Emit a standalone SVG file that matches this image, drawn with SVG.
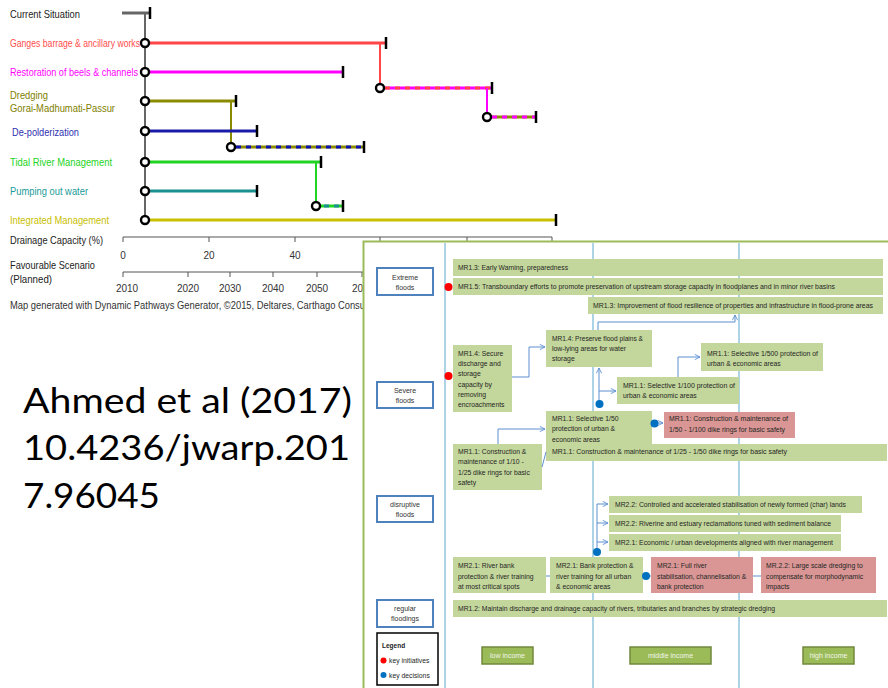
<svg xmlns="http://www.w3.org/2000/svg" width="888" height="688" viewBox="0 0 888 688">
<defs>
<style>
.lbl{font-family:"Liberation Sans",Arial,sans-serif;font-size:11px}
.ax{font-family:"Liberation Sans",Arial,sans-serif;font-size:10px;fill:#333}
.pw{stroke-width:3;fill:none}
.tk{stroke:#000;stroke-width:2.5}
.nd{fill:#fff;stroke:#000;stroke-width:2.4}
.t{font-family:"Liberation Sans",Arial,sans-serif;font-size:6.8px;fill:#262626}
.g{fill:#c3d69b}
.r{fill:#d99694}
.lv{fill:#fff;stroke:#4f81bd;stroke-width:2}
.lt{font-family:"Liberation Sans",Arial,sans-serif;font-size:7px;fill:#333;text-anchor:middle}
.inc{fill:#9bbb59;stroke:#71893f;stroke-width:1.5}
.it{font-family:"Liberation Sans",Arial,sans-serif;font-size:7px;fill:#f2f6ea;text-anchor:middle}
.cn{stroke:#5b8fd0;stroke-width:1;fill:none}
.vl{stroke:#92c5de;stroke-width:1.5}
.big{font-family:Lato,"Open Sans",sans-serif;font-size:34px;fill:#000}
</style>
<marker id="ar" viewBox="0 0 8 8" refX="7" refY="4" markerWidth="7" markerHeight="7" markerUnits="userSpaceOnUse" orient="auto">
<path d="M1,1 L7,4 L1,7" fill="none" stroke="#5b8fd0" stroke-width="1"/>
</marker>
</defs>
<rect width="888" height="688" fill="#fff"/>

<!-- Pathways chart -->
<g id="pathway-lines">
<line x1="122" y1="13" x2="150" y2="13" stroke="#666" class="pw"/>
<line x1="145" y1="13" x2="145" y2="220" stroke="#666" stroke-width="2"/>
<line x1="145" y1="43" x2="386" y2="43" stroke="#ff4545" class="pw"/>
<line x1="380" y1="43" x2="380" y2="88" stroke="#ff4545" stroke-width="2"/>
<line x1="380" y1="88" x2="492" y2="88" stroke="#ff00ff" class="pw"/>
<line x1="385" y1="88" x2="492" y2="88" stroke="#ff4545" class="pw" stroke-dasharray="5 5"/>
<line x1="487" y1="88" x2="487" y2="117" stroke="#ff00ff" stroke-width="2"/>
<line x1="487" y1="117" x2="536" y2="117" stroke="#8b8b00" class="pw"/>
<line x1="492" y1="117" x2="536" y2="117" stroke="#ff00ff" class="pw" stroke-dasharray="5 5"/>
<line x1="145" y1="72" x2="343" y2="72" stroke="#ff00ff" class="pw"/>
<line x1="145" y1="101" x2="236" y2="101" stroke="#8b8b00" class="pw"/>
<line x1="231" y1="101" x2="231" y2="147" stroke="#8b8b00" stroke-width="2"/>
<line x1="231" y1="147" x2="364" y2="147" stroke="#8b8b00" class="pw"/>
<line x1="236" y1="147" x2="364" y2="147" stroke="#1010b0" class="pw" stroke-dasharray="5 5"/>
<line x1="145" y1="131" x2="257" y2="131" stroke="#1a1aa8" class="pw"/>
<line x1="145" y1="162" x2="321" y2="162" stroke="#22d422" class="pw"/>
<line x1="316" y1="162" x2="316" y2="206" stroke="#22d422" stroke-width="2"/>
<line x1="316" y1="206" x2="343" y2="206" stroke="#22d422" class="pw"/>
<line x1="324" y1="206" x2="343" y2="206" stroke="#1a9090" class="pw" stroke-dasharray="5 5"/>
<line x1="145" y1="191" x2="257" y2="191" stroke="#1a9090" class="pw"/>
<line x1="145" y1="220" x2="556" y2="220" stroke="#c8c000" class="pw"/>
</g>
<g id="pathway-ticks">
<line x1="150" y1="7" x2="150" y2="19" class="tk"/>
<line x1="386" y1="37" x2="386" y2="49" class="tk"/>
<line x1="343" y1="66" x2="343" y2="78" class="tk"/>
<line x1="492" y1="82" x2="492" y2="94" class="tk"/>
<line x1="536" y1="111" x2="536" y2="123" class="tk"/>
<line x1="236" y1="95" x2="236" y2="107" class="tk"/>
<line x1="257" y1="125" x2="257" y2="137" class="tk"/>
<line x1="364" y1="141" x2="364" y2="153" class="tk"/>
<line x1="321" y1="156" x2="321" y2="168" class="tk"/>
<line x1="257" y1="185" x2="257" y2="197" class="tk"/>
<line x1="343" y1="200" x2="343" y2="212" class="tk"/>
<line x1="556" y1="214" x2="556" y2="226" class="tk"/>
</g>
<g id="pathway-nodes">
<circle cx="145" cy="43" r="4" class="nd"/>
<circle cx="145" cy="72" r="4" class="nd"/>
<circle cx="145" cy="101" r="4" class="nd"/>
<circle cx="145" cy="131" r="4" class="nd"/>
<circle cx="145" cy="162" r="4" class="nd"/>
<circle cx="145" cy="191" r="4" class="nd"/>
<circle cx="145" cy="220" r="4" class="nd"/>
<circle cx="380" cy="88" r="4" class="nd"/>
<circle cx="487" cy="117" r="4" class="nd"/>
<circle cx="231" cy="147" r="4" class="nd"/>
<circle cx="316" cy="206" r="4" class="nd"/>
</g>
<g id="pathway-labels">
<text x="10" y="18" class="lbl" fill="#222" textLength="70" lengthAdjust="spacingAndGlyphs">Current Situation</text>
<text x="10" y="47" class="lbl" fill="#ff4d4d" textLength="130" lengthAdjust="spacingAndGlyphs">Ganges barrage &amp; ancillary works</text>
<text x="10" y="76" class="lbl" fill="#ff00ff" textLength="128" lengthAdjust="spacingAndGlyphs">Restoration of beels &amp; channels</text>
<text x="10" y="99" class="lbl" fill="#808000" textLength="38" lengthAdjust="spacingAndGlyphs">Dredging</text>
<text x="10" y="111.5" class="lbl" fill="#808000" textLength="105" lengthAdjust="spacingAndGlyphs">Gorai-Madhumati-Passur</text>
<text x="12" y="135.5" class="lbl" fill="#3030b0" textLength="67" lengthAdjust="spacingAndGlyphs">De-polderization</text>
<text x="10" y="166" class="lbl" fill="#22d422" textLength="102" lengthAdjust="spacingAndGlyphs">Tidal River Management</text>
<text x="10" y="194.5" class="lbl" fill="#1a9a9a" textLength="78" lengthAdjust="spacingAndGlyphs">Pumping out water</text>
<text x="10" y="224" class="lbl" fill="#c8c000" textLength="99" lengthAdjust="spacingAndGlyphs">Integrated Management</text>
</g>
<g id="axes">
<text x="10" y="244" class="lbl" fill="#222" textLength="93" lengthAdjust="spacingAndGlyphs">Drainage Capacity (%)</text>
<path d="M123,237 H552 M123,237 V242 M209,237 V242 M295,237 V242 M380,237 V242 M467,237 V242 M552,237 V242" stroke="#555" stroke-width="1" fill="none"/>
<text x="123" y="259" class="ax" text-anchor="middle">0</text>
<text x="209" y="259" class="ax" text-anchor="middle">20</text>
<text x="295" y="259" class="ax" text-anchor="middle">40</text>
<text x="10" y="269" class="lbl" fill="#222" textLength="85" lengthAdjust="spacingAndGlyphs">Favourable Scenario</text>
<text x="10" y="283" class="lbl" fill="#222" textLength="42" lengthAdjust="spacingAndGlyphs">(Planned)</text>
<path d="M123,272 H560 M123,272 V277 M188,272 V277 M230,272 V277 M273,272 V277 M317,272 V277 M362,272 V277" stroke="#555" stroke-width="1" fill="none"/>
<text x="127" y="292" class="ax" text-anchor="middle">2010</text>
<text x="188" y="292" class="ax" text-anchor="middle">2020</text>
<text x="230" y="292" class="ax" text-anchor="middle">2030</text>
<text x="273" y="292" class="ax" text-anchor="middle">2040</text>
<text x="317" y="292" class="ax" text-anchor="middle">2050</text>
<text x="352" y="292" class="ax">206</text>
<text x="10" y="309" class="ax" fill="#222" textLength="355" lengthAdjust="spacingAndGlyphs">Map generated with Dynamic Pathways Generator, ©2015, Deltares, Carthago Consu</text>
</g>

<g id="citation">
<text x="23" y="413" class="big" textLength="329" lengthAdjust="spacingAndGlyphs">Ahmed et al (2017)</text>
<text x="23" y="460" class="big" textLength="327" lengthAdjust="spacingAndGlyphs">10.4236/jwarp.201</text>
<text x="23" y="508" class="big" textLength="137" lengthAdjust="spacingAndGlyphs">7.96045</text>
</g>

<!-- Right panel -->
<rect id="panel" x="363.5" y="241.5" width="540" height="460" fill="#fff" stroke="#9bbb59" stroke-width="2"/>
<g id="income-lines">
<line x1="445" y1="243" x2="445" y2="688" class="vl"/>
<line x1="593" y1="243" x2="593" y2="688" class="vl"/>
<line x1="739" y1="243" x2="739" y2="688" class="vl"/>
</g>

<g id="level-extreme"><rect x="377" y="268" width="56" height="27" class="lv"/><text x="405" y="279.5" class="lt">Extreme</text><text x="405" y="289.5" class="lt">floods</text></g>
<g id="level-severe"><rect x="377" y="382" width="56" height="26" class="lv"/><text x="405" y="393" class="lt">Severe</text><text x="405" y="403" class="lt">floods</text></g>
<g id="level-disruptive"><rect x="377" y="496" width="56" height="26" class="lv"/><text x="405" y="506.5" class="lt">disruptive</text><text x="405" y="516.5" class="lt">floods</text></g>
<g id="level-regular"><rect x="377" y="600" width="56" height="27" class="lv"/><text x="405" y="610.5" class="lt">regular</text><text x="405" y="620.5" class="lt">floodings</text></g>

<g id="mr13-warning"><rect x="453" y="259" width="430" height="17" class="g"/><text x="458" y="269.8" class="t" textLength="110" lengthAdjust="spacingAndGlyphs">MR1.3: Early Warning, preparedness</text></g>
<g id="mr15"><rect x="453" y="278" width="430" height="17" class="g"/><text x="458" y="289" class="t" textLength="377" lengthAdjust="spacingAndGlyphs">MR1.5: Transboundary efforts to promote preservation of upstream storage capacity in floodplanes and in minor river basins</text></g>
<g id="mr13-resilience"><rect x="588" y="297" width="295" height="17" class="g"/><text x="593" y="308" class="t" textLength="280" lengthAdjust="spacingAndGlyphs">MR1.3: Improvement of flood resilience of properties and infrastructure in flood-prone areas</text></g>
<g id="mr14-preserve"><rect x="546" y="330" width="106" height="37" class="g"/>
<text x="552" y="340.7" class="t" textLength="91" lengthAdjust="spacingAndGlyphs">MR1.4: Preserve flood plains &amp;</text>
<text x="552" y="350.7" class="t" textLength="74" lengthAdjust="spacingAndGlyphs">low-lying areas for water</text>
<text x="552" y="360.7" class="t">storage</text></g>
<g id="mr14-secure"><rect x="453" y="345" width="59" height="67" class="g"/>
<text x="458" y="356" class="t">MR1.4: Secure</text>
<text x="458" y="366.2" class="t">discharge and</text>
<text x="458" y="376.4" class="t">storage</text>
<text x="458" y="386.6" class="t">capacity  by</text>
<text x="458" y="396.8" class="t">removing</text>
<text x="458" y="407" class="t">encroachments</text></g>
<g id="mr11-500"><rect x="701" y="343" width="122" height="28" class="g"/>
<text x="707" y="355.7" class="t" textLength="111" lengthAdjust="spacingAndGlyphs">MR1.1: Selective 1/500 protection of</text>
<text x="707" y="365.7" class="t">urban &amp; economic areas</text></g>
<g id="mr11-100"><rect x="617" y="377" width="122" height="27" class="g"/>
<text x="623" y="388.4" class="t" textLength="112" lengthAdjust="spacingAndGlyphs">MR1.1: Selective 1/100 protection of</text>
<text x="623" y="398.4" class="t">urban &amp; economic areas</text></g>
<g id="mr11-50"><rect x="546" y="411" width="106" height="34" class="g"/>
<text x="552" y="420.7" class="t">MR1.1: Selective 1/50</text>
<text x="552" y="431.2" class="t">protection of urban &amp;</text>
<text x="552" y="441.7" class="t">economic areas</text></g>
<g id="mr11-25-50"><rect x="546" y="444" width="341" height="17" class="g"/><text x="552" y="454.2" class="t" textLength="235" lengthAdjust="spacingAndGlyphs">MR1.1:  Construction &amp; maintenance of  1/25  - 1/50 dike rings for basic safety</text></g>
<g id="mr11-10-25"><rect x="453" y="444" width="89" height="46" class="g"/>
<text x="458" y="454.1" class="t">MR1.1:  Construction &amp;</text>
<text x="458" y="464.3" class="t">maintenance of  1/10  -</text>
<text x="458" y="474.5" class="t">1/25 dike rings for basic</text>
<text x="458" y="484.7" class="t">safety</text></g>
<g id="mr11-50-100"><rect x="664" y="412" width="131" height="26" class="r"/>
<text x="669" y="421.4" class="t" textLength="119" lengthAdjust="spacingAndGlyphs">MR1.1:  Construction &amp; maintenance of</text>
<text x="669" y="431.7" class="t" textLength="116" lengthAdjust="spacingAndGlyphs">1/50  - 1/100 dike rings for basic safety</text></g>
<g id="mr22-char"><rect x="609" y="496" width="253" height="17" class="g"/><text x="615" y="506.7" class="t" textLength="231" lengthAdjust="spacingAndGlyphs">MR2.2: Controlled and accelerated stabilisation of newly formed (char) lands</text></g>
<g id="mr22-reclaim"><rect x="609" y="515" width="232" height="17" class="g"/><text x="615" y="525.7" class="t" textLength="216" lengthAdjust="spacingAndGlyphs">MR2.2:  Riverine and estuary reclamations tuned with sediment balance</text></g>
<g id="mr21-econ"><rect x="609" y="534" width="232" height="17" class="g"/><text x="615" y="544.7" class="t" textLength="218" lengthAdjust="spacingAndGlyphs">MR2.1:  Economic / urban developments aligned with river management</text></g>
<g id="mr21-critical"><rect x="453" y="557" width="93" height="36" class="g"/>
<text x="458" y="568.4" class="t">MR2.1:  River bank</text>
<text x="458" y="578.7" class="t">protection &amp; river training</text>
<text x="458" y="589" class="t">at most critical spots</text></g>
<g id="mr21-bank"><rect x="550" y="557" width="93" height="36" class="g"/>
<text x="556" y="568.4" class="t">MR2.1:  Bank protection &amp;</text>
<text x="556" y="578.7" class="t">river training  for all urban</text>
<text x="556" y="589" class="t">&amp; economic areas</text></g>
<g id="mr21-full"><rect x="651" y="557" width="102" height="36" class="r"/>
<text x="657" y="568.4" class="t">MR2.1:  Full river</text>
<text x="657" y="578.7" class="t">stabilisation, channelisation &amp;</text>
<text x="657" y="589" class="t">bank protection</text></g>
<g id="mr22-dredge"><rect x="761" y="557" width="115" height="36" class="r"/>
<text x="766" y="568.4" class="t">MR.2.2: Large scale dredging to</text>
<text x="766" y="578.7" class="t">compensate for morphodynamic</text>
<text x="766" y="589" class="t">impacts</text></g>
<g id="mr12"><rect x="453" y="600" width="434" height="17" class="g"/><text x="458" y="610.7" class="t" textLength="317" lengthAdjust="spacingAndGlyphs">MR1.2: Maintain discharge and drainage capacity of rivers, tributaries and branches by strategic dredging</text></g>

<g id="connectors">
<path d="M512,377 H529 V347 H545" class="cn" marker-end="url(#ar)"/>
<path d="M598,330 V322 H735 V315" class="cn" marker-end="url(#ar)"/>
<path d="M599,404 V368" class="cn" marker-end="url(#ar)"/>
<path d="M599,391 H616" class="cn" marker-end="url(#ar)"/>
<path d="M678,377 V357 H700" class="cn" marker-end="url(#ar)"/>
<path d="M498,444 V429 H545" class="cn" marker-end="url(#ar)"/>
<path d="M542,467 L546,452" class="cn"/>
<path d="M654,423 H663" class="cn" marker-end="url(#ar)"/>
<path d="M597,552 V504" class="cn"/>
<path d="M597,504 H608" class="cn" marker-end="url(#ar)"/>
<path d="M597,523 H608" class="cn" marker-end="url(#ar)"/>
<path d="M597,542 H608" class="cn" marker-end="url(#ar)"/>
<path d="M546,576 H550" class="cn"/>
<path d="M646,576 H651" class="cn"/>
<path d="M753,576 H761" class="cn"/>
</g>
<g id="markers">
<circle cx="448.5" cy="287" r="4" fill="#ff0000"/>
<circle cx="448.5" cy="376" r="4" fill="#ff0000"/>
<circle cx="599.5" cy="404" r="4" fill="#0070c0"/>
<circle cx="654.5" cy="423.5" r="4" fill="#0070c0"/>
<circle cx="597" cy="552" r="4" fill="#0070c0"/>
<circle cx="646" cy="576" r="4" fill="#0070c0"/>
</g>

<g id="income-low"><rect x="482" y="647" width="51" height="17" class="inc"/><text x="507.5" y="658.3" class="it">low income</text></g>
<g id="income-middle"><rect x="630" y="647" width="81" height="17" class="inc"/><text x="670.5" y="658.3" class="it">middle income</text></g>
<g id="income-high"><rect x="803" y="647" width="51" height="17" class="inc"/><text x="828.5" y="658.3" class="it">high income</text></g>

<g id="legend">
<rect x="377" y="633" width="61" height="52" fill="#fff" stroke="#000" stroke-width="1.5"/>
<text x="382" y="648" font-family="Liberation Sans, Arial, sans-serif" font-size="6.5" font-weight="bold" fill="#222">Legend</text>
<circle cx="383.5" cy="660.5" r="3" fill="#ff0000"/>
<text x="389" y="663" class="t" font-size="6.5">key initiatives</text>
<circle cx="383.5" cy="675" r="3" fill="#0070c0"/>
<text x="389" y="677.5" class="t" font-size="6.5">key decisions</text>
</g>
</svg>
